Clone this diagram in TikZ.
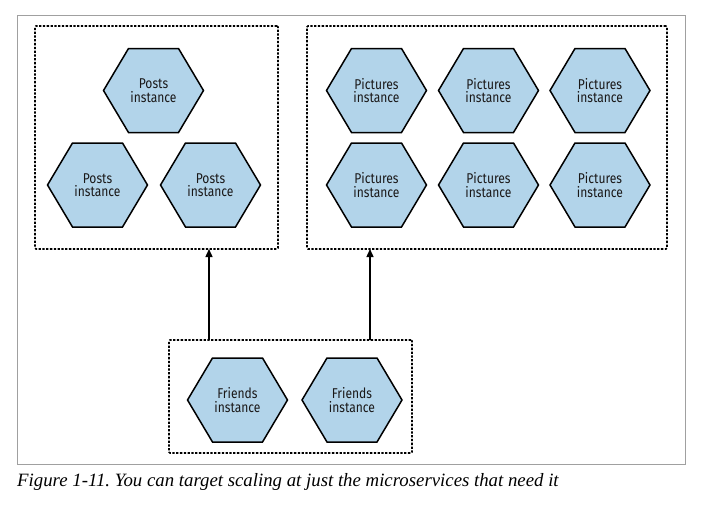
\documentclass[tikz,border=0pt]{standalone}
\usepackage{fontspec}
\setmainfont{Liberation Serif}
\newfontfamily\hexfont[FakeStretch=0.85]{Fira Sans}
\usetikzlibrary{arrows.meta,backgrounds}
\definecolor{hexblue}{HTML}{B2D4EA}
\definecolor{hextext}{HTML}{1A1818}
\definecolor{framegray}{HTML}{A0A0A0}
\tikzset{
  hexnode/.style={minimum width=100pt, minimum height=84pt, inner sep=0pt, outer sep=0pt,
    align=center, font=\hexfont\fontsize{14.2}{13.5}\selectfont, text=hextext},
  hexline/.style={fill=hexblue, draw=black, line width=1.5pt, line join=miter},
  dotbox/.style={draw=black, line width=1.7pt, dash pattern=on 2.3pt off 1.5pt,
    inner sep=0pt, outer sep=0pt, rounded corners=1pt},
  arrowline/.style={draw=black, line width=1.4pt, -{Triangle[width=7pt,length=8pt]}},
  framebox/.style={draw=framegray, line width=1pt, inner sep=0pt, outer sep=0pt},
}
\newcommand{\hexpath}[1]{\path[hexline] (#1.west) -- ([xshift=25pt]#1.north west) -- ([xshift=-25pt]#1.north east) -- (#1.east) -- ([xshift=-25pt]#1.south east) -- ([xshift=25pt]#1.south west) -- cycle;}
\begin{document}
\frenchspacing
\begin{tikzpicture}[x=1pt,y=-1pt]
\useasboundingbox (0,0) rectangle (705,504);
% outer frame
\node[framebox, minimum width=668pt, minimum height=449pt] (frame) at (351,239.5) {};
% dotted boxes
\node[dotbox, minimum width=243pt, minimum height=223pt] (postsbox) at (156.5,137.5) {};
\node[dotbox, minimum width=360pt, minimum height=223pt] (picsbox) at (487,137.5) {};
\node[dotbox, minimum width=243pt, minimum height=113pt] (friendsbox) at (290.5,396.5) {};
% hexagon nodes
\node[hexnode] (p1) at (153.5,90.5) {Posts\\instance};
\node[hexnode] (p2) at (97.5,185) {Posts\\instance};
\node[hexnode] (p3) at (210.5,185) {Posts\\instance};
\node[hexnode] (q1) at (376.5,90.5) {Pictures\\instance};
\node[hexnode] (q2) at (488.5,90.5) {Pictures\\instance};
\node[hexnode] (q3) at (600,90.5) {Pictures\\instance};
\node[hexnode] (q4) at (376.5,185) {Pictures\\instance};
\node[hexnode] (q5) at (488.5,185) {Pictures\\instance};
\node[hexnode] (q6) at (600,185) {Pictures\\instance};
\node[hexnode] (f1) at (237.5,400) {Friends\\instance};
\node[hexnode] (f2) at (352,400) {Friends\\instance};
\begin{scope}[on background layer]
  \fill[white] (0,0) rectangle (705,504);
  \foreach \n in {p1,p2,p3,q1,q2,q3,q4,q5,q6,f1,f2} {\hexpath{\n}}
\end{scope}
% arrows
\coordinate (ax1) at (209,0);
\coordinate (ax2) at (370,0);
\draw[arrowline] (friendsbox.north -| ax1) -- (postsbox.south -| ax1);
\draw[arrowline] (friendsbox.north -| ax2) -- (picsbox.south -| ax2);
% caption
\node[anchor=west, inner sep=0pt, font=\itshape\fontsize{18.8}{22}\selectfont] (cap) at (17,482) {Figure 1-11. You can target scaling at just the microservices that need it};
\end{tikzpicture}
\end{document}
